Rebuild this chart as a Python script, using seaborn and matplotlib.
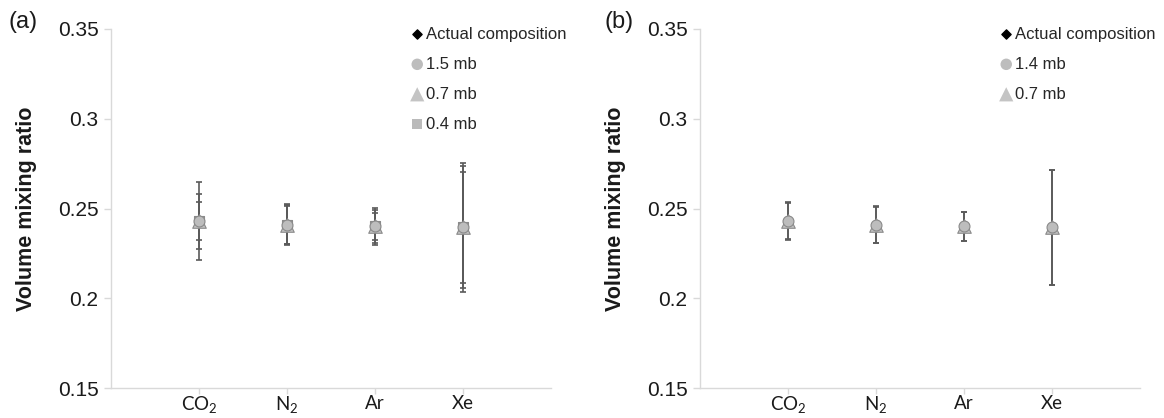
import matplotlib.pyplot as plt
import numpy as np
import pandas as pd
import seaborn as sns

# categories and values
gases = ["CO$_\\mathregular{2}$", "N$_\\mathregular{2}$", "Ar", "Xe"]
actual = [0.243, 0.241, 0.240, 0.2395]

# panel (a)
a_15_mean = [0.243, 0.241, 0.240, 0.2395]
a_15_err = [0.0107, 0.0105, 0.0075, 0.031]
a_07_mean = [0.243, 0.241, 0.240, 0.2395]
a_07_err = [0.0153, 0.0110, 0.0090, 0.034]
a_04_mean = [0.243, 0.241, 0.240, 0.2395]
a_04_err = [0.0218, 0.0115, 0.0102, 0.036]

# panel (b)
b_14_mean = [0.243, 0.241, 0.240, 0.2395]
b_14_err = [0.0100, 0.0100, 0.0080, 0.0320]
b_07_mean = [0.243, 0.241, 0.240, 0.2395]
b_07_err = [0.0105, 0.0102, 0.0082, 0.0322]

yticks = [0.15, 0.2, 0.25, 0.3, 0.35]
ytick_labels = ["0.15", "0.2", "0.25", "0.3", "0.35"]

sns.set_theme(style="white")
plt.rcParams["font.family"] = ["Liberation Sans", "DejaVu Sans"]

AXIS_GREY = "#d9d9d9"
BAR_GREY = "#5a5a5a"
TEXT = "#1a1a1a"

styles = {
    "circle": dict(marker="o", color="#bdbdbd", s=62, z=7),
    "triangle": dict(marker="^", color="#c4c4c4", s=95, z=6),
    "square": dict(marker="s", color="#bababa", s=48, z=5),
}


def draw_panel(ax, series):
    # actual composition sits underneath the measured markers
    sns.scatterplot(x=gases, y=actual, marker="D", color="black", s=18,
                    edgecolor="black", ax=ax, zorder=2)
    for label, mean, err, kind in series:
        ax.errorbar(gases, mean, yerr=err, fmt="none", ecolor=BAR_GREY,
                    elinewidth=1.2, capsize=2.5, capthick=1.2, zorder=3)
    for label, mean, err, kind in series:
        st = styles[kind]
        sns.scatterplot(x=gases, y=mean, marker=st["marker"], color=st["color"],
                        s=st["s"], edgecolor="#8a8a8a", linewidth=0.8,
                        ax=ax, zorder=st["z"])
    # legend entries
    handles = [ax.scatter([], [], marker="D", color="black", s=22)]
    labels = ["Actual composition"]
    for label, mean, err, kind in series:
        st = styles[kind]
        handles.append(ax.scatter([], [], marker=st["marker"], color=st["color"],
                                  s=st["s"] * 1.1, edgecolor="none"))
        labels.append(label)
    ax.legend(handles, labels, loc="upper left", bbox_to_anchor=(0.66, 1.025),
              frameon=False, fontsize=12, handletextpad=0.0, handlelength=1.1,
              labelspacing=0.9, borderaxespad=0)

    ax.set_xlim(-1, 4)
    ax.set_ylim(0.15, 0.35)
    ax.set_yticks(yticks)
    ax.set_yticklabels(ytick_labels, fontsize=15, color=TEXT)
    ax.set_xticks(range(len(gases)))
    ax.set_xticklabels(gases, fontsize=13.5, family=["Lato", "DejaVu Sans"], color=TEXT)
    ax.tick_params(axis="y", direction="out", length=5, color=AXIS_GREY, width=1,
                   left=True, pad=4)
    ax.tick_params(axis="x", direction="out", length=4, color=AXIS_GREY, width=1,
                   bottom=True, pad=1)
    sns.despine(ax=ax)
    for side in ["left", "bottom"]:
        ax.spines[side].set_color(AXIS_GREY)
        ax.spines[side].set_linewidth(1)
    ax.set_ylabel("Volume mixing ratio", fontsize=15.5, fontweight="bold", color=TEXT)
    ax.yaxis.set_label_coords(-0.168, 0.5)
    ax.set_xlabel("")
    ax.grid(False)


fig = plt.figure(figsize=(11.64, 4.18), dpi=100)
ax_a = fig.add_axes([111 / 1164, 30 / 418, 440 / 1164, 359 / 418])
ax_b = fig.add_axes([700 / 1164, 30 / 418, 440 / 1164, 359 / 418])

draw_panel(ax_a, [("1.5 mb", a_15_mean, a_15_err, "circle"),
                  ("0.7 mb", a_07_mean, a_07_err, "triangle"),
                  ("0.4 mb", a_04_mean, a_04_err, "square")])
draw_panel(ax_b, [("1.4 mb", b_14_mean, b_14_err, "circle"),
                  ("0.7 mb", b_07_mean, b_07_err, "triangle")])

fig.text(9 / 1164, 1 - 22 / 418, "(a)", fontsize=17, va="center", ha="left", color=TEXT)
fig.text(604 / 1164, 1 - 22 / 418, "(b)", fontsize=17, va="center", ha="left", color=TEXT)

fig.savefig("out.png", dpi=100, facecolor="white")
